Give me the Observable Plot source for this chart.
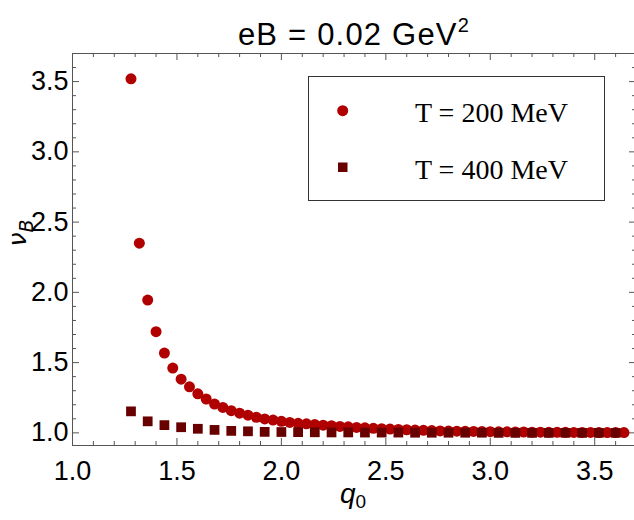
<!DOCTYPE html>
<html><head><meta charset="utf-8">
<script src="https://cdn.jsdelivr.net/npm/d3@7"></script>
<script src="https://cdn.jsdelivr.net/npm/@observablehq/plot@0.6"></script>
<style>
body{margin:0;background:#fff;}
#chart{width:634px;height:520px;overflow:hidden;}
</style></head><body><div id="chart"></div>
<script>
const titleMain = "eB = 0.02 GeV";
const titleSup = "2";
const seriesNames = ["T = 200 MeV", "T = 400 MeV"];
const seriesColors = ["#b00000", "#680000"];

const q0T200 = [1.28,1.32,1.36,1.40,1.44,1.48,1.52,1.56,1.60,1.64,1.68,1.72,1.76,1.80,1.84,1.88,1.92,1.96,2.00,2.04,
  2.08,2.12,2.16,2.20,2.24,2.28,2.32,2.36,2.40,2.44,2.48,2.52,2.56,2.60,2.64,2.68,2.72,2.76,2.80,2.84,
  2.88,2.92,2.96,3.00,3.04,3.08,3.12,3.16,3.20,3.24,3.28,3.32,3.36,3.40,3.44,3.48,3.52,3.56,3.60,3.64];
const nuT200 = [3.52,2.35,1.945,1.72,1.568,1.461,1.382,1.328,1.278,1.241,1.205,1.181,1.158,1.140,1.126,1.111,1.099,1.091,1.082,1.074,
  1.068,1.064,1.059,1.055,1.051,1.046,1.043,1.039,1.036,1.032,1.030,1.027,1.024,1.022,1.020,1.018,1.016,1.014,1.013,1.012,
  1.011,1.010,1.009,1.008,1.007,1.007,1.006,1.006,1.005,1.005,1.004,1.004,1.004,1.003,1.003,1.003,1.002,1.002,1.002,1.002];

const q0T400 = [1.28,1.36,1.44,1.52,1.60,1.68,1.76,1.84,1.92,2.00,2.08,2.16,2.24,2.32,2.40,2.48,2.56,2.64,2.72,2.80,
  2.88,2.96,3.04,3.12,3.20,3.28,3.36,3.44,3.52,3.60];
const nuT400 = [1.153,1.082,1.055,1.040,1.029,1.021,1.014,1.011,1.007,1.006,1.005,1.004,1.003,1.003,1.002,1.002,1.002,1.001,1.001,1.001,
  1.001,1.001,1.000,1.000,1.000,1.000,1.000,1.000,1.000,1.000];

const xTicks = [1.0,1.5,2.0,2.5,3.0,3.5];
const xMinor = [1.1,1.2,1.3,1.4,1.6,1.7,1.8,1.9,2.1,2.2,2.3,2.4,2.6,2.7,2.8,2.9,3.1,3.2,3.3,3.4,3.6];
const yTicks = [1.0,1.5,2.0,2.5,3.0,3.5];
const yMinor = [1.1,1.2,1.3,1.4,1.6,1.7,1.8,1.9,2.1,2.2,2.3,2.4,2.6,2.7,2.8,2.9,3.1,3.2,3.3,3.4,3.6];

const W = 634, H = 520, mL = 72, mR = -2, mT = 53, mB = 75;
const plotW = W - mL - mR, plotH = H - mT - mB;
const gray = "#555";
const majorLen = 7, minorLen = 4;

const t200 = q0T200.map((q, i) => ({q, nu: nuT200[i]}));
const t400 = q0T400.map((q, i) => ({q, nu: nuT400[i]}));

const chart = Plot.plot({
  width: W, height: H,
  marginLeft: mL, marginRight: mR, marginTop: mT, marginBottom: mB,
  x: {domain: [1.0, 3.70]},
  y: {domain: [0.91, 3.70]},
  style: {fontFamily: "'Liberation Sans', Arial, sans-serif", background: "#fff", color: "#000"},
  marks: [
    Plot.axisX({ticks: xTicks, tickSize: 0, tickPadding: 15, tickFormat: d3.format(".1f"), fontSize: 27, label: null}),
    Plot.axisY({ticks: yTicks, tickSize: 0, tickPadding: 4, tickFormat: d3.format(".1f"), fontSize: 27, label: null}),
    Plot.tickX(xTicks, {x: d => d, stroke: gray, insetTop: plotH - majorLen}),
    Plot.tickX(xTicks, {x: d => d, stroke: gray, insetBottom: plotH - majorLen}),
    Plot.tickX(xMinor, {x: d => d, stroke: gray, insetTop: plotH - minorLen}),
    Plot.tickX(xMinor, {x: d => d, stroke: gray, insetBottom: plotH - minorLen}),
    Plot.tickY(yTicks, {y: d => d, stroke: gray, insetRight: plotW - majorLen}),
    Plot.tickY(yTicks, {y: d => d, stroke: gray, insetLeft: plotW - majorLen}),
    Plot.tickY(yMinor, {y: d => d, stroke: gray, insetRight: plotW - minorLen}),
    Plot.tickY(yMinor, {y: d => d, stroke: gray, insetLeft: plotW - minorLen}),
    Plot.frame({stroke: gray}),
    Plot.dot(t200, {x: "q", y: "nu", r: 5.5, fill: seriesColors[0], symbol: "circle"}),
    Plot.dot(t400, {x: "q", y: "nu", r: 5.5, fill: seriesColors[1], symbol: "square"})
  ]
});
document.getElementById("chart").appendChild(chart);

const svg = d3.select(chart);
// title
const tt = svg.append("text").attr("x", 354).attr("y", 45).attr("text-anchor", "middle")
  .attr("font-family", "'Liberation Sans', Arial, sans-serif").attr("font-size", 31)
  .attr("letter-spacing", 1.2).attr("fill", "#000")
  .text(titleMain);
tt.append("tspan").attr("font-size", 20).attr("dy", -13).text(titleSup);

// y label
const yl = svg.append("text").attr("transform", "translate(26,233) rotate(-90)").attr("text-anchor", "middle")
  .attr("font-family", "'DejaVu Sans', sans-serif").attr("font-style", "italic").attr("font-size", 25).attr("fill", "#000")
  .text("ν");
yl.append("tspan").attr("font-size", 19).attr("dy", 7).text("B");

// x label
const xl = svg.append("text").attr("x", 353).attr("y", 503).attr("text-anchor", "middle")
  .attr("font-family", "'Liberation Sans', Arial, sans-serif").attr("font-style", "italic").attr("font-size", 28).attr("fill", "#000")
  .text("q");
xl.append("tspan").attr("font-size", 19).attr("font-style", "normal").attr("dy", 5).text("0");

// legend
const lg = svg.append("g");
lg.append("rect").attr("x", 308.5).attr("y", 76.5).attr("width", 296).attr("height", 124)
  .attr("fill", "#fff").attr("stroke", "#333");
lg.append("circle").attr("cx", 342.7).attr("cy", 110.7).attr("r", 5.5).attr("fill", seriesColors[0]);
lg.append("rect").attr("x", 338).attr("y", 162.5).attr("width", 9.5).attr("height", 9.5).attr("fill", seriesColors[1]);
seriesNames.forEach((name, i) => {
  lg.append("text").attr("x", 415).attr("y", 122 + i * 56.5).attr("text-anchor", "start")
    .attr("font-family", "'Liberation Serif', 'Times New Roman', serif").attr("font-size", 28).attr("fill", "#000")
    .text(name);
});
</script>
</body></html>
